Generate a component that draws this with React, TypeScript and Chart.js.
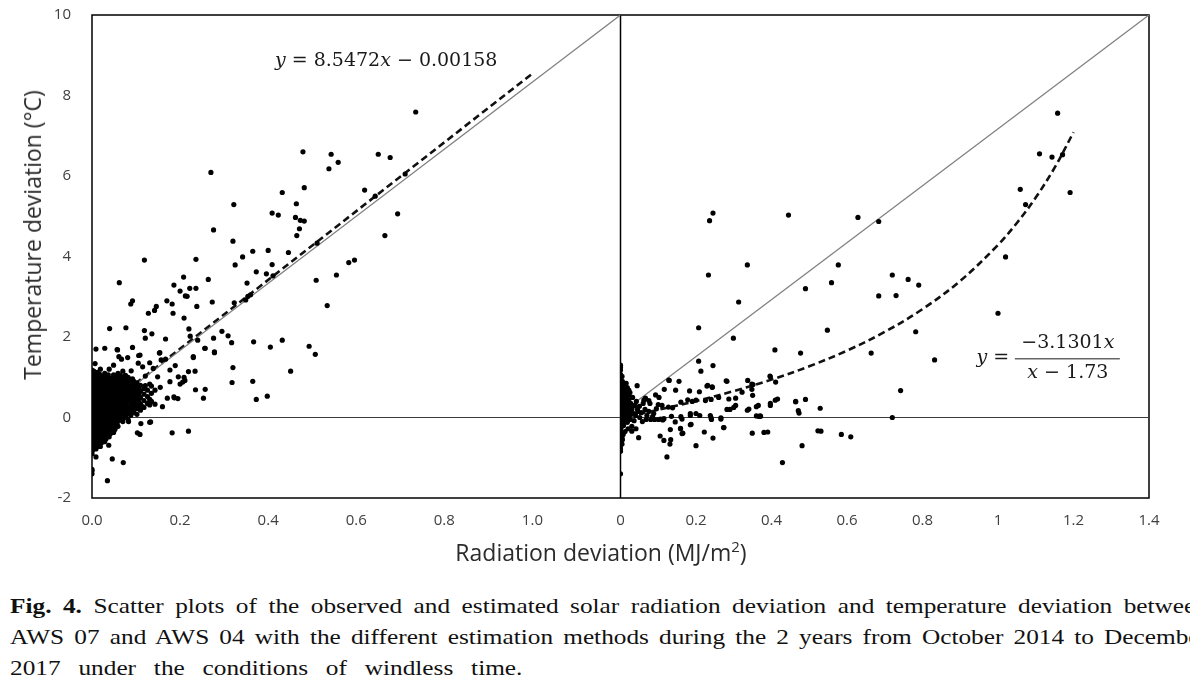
import React, { useEffect, useRef } from 'react';
import { Chart, registerables } from 'chart.js';

Chart.register(...registerables);

// ---------- axis ticks ----------
const Y_TICKS = [-2, 0, 2, 4, 6, 8, 10];
const Y_LABELS = ['-2', '0', '2', '4', '6', '8', '10'];
const LEFT_X_TICKS = [0, 0.2, 0.4, 0.6, 0.8, 1.0];
const LEFT_X_LABELS = ['0.0', '0.2', '0.4', '0.6', '0.8', '1.0'];
const RIGHT_X_TICKS = [0, 0.2, 0.4, 0.6, 0.8, 1, 1.2, 1.4];
const RIGHT_X_LABELS = ['0', '0.2', '0.4', '0.6', '0.8', '1', '1.2', '1.4'];
const Y_MIN = -2;
const Y_MAX = 10;
const LEFT_X_MAX = 1.2;
const RIGHT_X_MAX = 1.4;

// ---------- left panel: scattered points ----------
const LEFT_POINTS: number[][] = [
  [0.735, 7.59], [0.479, 6.6], [0.543, 6.54], [0.559, 6.34], [0.538, 6.18], [0.65, 6.54], [0.677, 6.46],
  [0.27, 6.09], [0.482, 5.71], [0.619, 5.65], [0.432, 5.59], [0.711, 6.05], [0.643, 5.5], [0.322, 5.29],
  [0.464, 5.31], [0.409, 5.08], [0.423, 5.03], [0.694, 5.06], [0.462, 4.97], [0.473, 4.9], [0.482, 4.88],
  [0.471, 4.69], [0.465, 4.52], [0.665, 4.52], [0.276, 4.66], [0.32, 4.38], [0.511, 4.33], [0.446, 4.1],
  [0.4, 4.15], [0.365, 4.13], [0.342, 3.99], [0.236, 3.93], [0.119, 3.91], [0.325, 3.79], [0.409, 3.8],
  [0.596, 3.91], [0.583, 3.85], [0.373, 3.62], [0.396, 3.57], [0.411, 3.52], [0.555, 3.54], [0.509, 3.41],
  [0.264, 3.43], [0.208, 3.49], [0.062, 3.35], [0.352, 3.34], [0.186, 3.29], [0.2, 3.14], [0.222, 3.21],
  [0.236, 3.21], [0.212, 3.02], [0.216, 3.01], [0.354, 3.01], [0.36, 3.05], [0.349, 2.92], [0.323, 2.85],
  [0.273, 2.87], [0.17, 2.9], [0.092, 2.9], [0.088, 2.82], [0.182, 2.82], [0.238, 2.76], [0.146, 2.76],
  [0.142, 2.66], [0.128, 2.59], [0.534, 2.78], [0.184, 2.59], [0.209, 2.47], [0.04, 2.21], [0.077, 2.23],
  [0.119, 2.16], [0.136, 2.08], [0.22, 2.2], [0.223, 2.02], [0.121, 1.97], [0.167, 1.95], [0.295, 2.14],
  [0.309, 2.03], [0.276, 1.97], [0.317, 1.86], [0.367, 1.88], [0.432, 1.92], [0.493, 1.77], [0.405, 1.75],
  [0.507, 1.57], [0.029, 1.72], [0.057, 1.69], [0.092, 1.74], [0.256, 1.72], [0.278, 1.61], [0.154, 1.61],
  [0.061, 1.51], [0.106, 1.54], [0.23, 1.49], [0.32, 1.24], [0.451, 1.15], [0.365, 0.9], [0.318, 0.87],
  [0.007, 1.34], [0.0, 1.13], [0.235, 0.69], [0.257, 0.7], [0.253, 0.48], [0.398, 0.53], [0.373, 0.45],
  [0.211, 0.92], [0.187, 0.49], [0.195, 0.47], [0.182, -0.38], [0.219, -0.34], [0.103, -0.38], [0.109, -0.42],
  [0.133, -0.11], [0.071, -1.12], [0.046, -1.03], [0.009, -0.98], [0.035, -1.57], [0.0, -1.32], [0.0, -1.4],
  [0.0, -1.29], [0.0, -0.84], [0.0, -0.9],
  [0.009, 1.7], [0.058, 1.68], [0.067, 1.45], [0.081, 1.49], [0.109, 1.55], [0.105, 1.35], [0.153, 1.6],
  [0.157, 1.43], [0.167, 1.45], [0.131, 1.36], [0.089, 1.16], [0.115, 1.26], [0.139, 1.22], [0.121, 1.03],
  [0.149, 1.01], [0.177, 1.18], [0.189, 1.29], [0.196, 1.01], [0.2, 0.83], [0.177, 0.89], [0.219, 1.14],
  [0.234, 1.15], [0.23, 1.51], [0.24, 1.92], [0.257, 1.72], [0.278, 1.63], [0.209, 1.0], [0.206, 0.88],
  [0.186, 0.51], [0.171, 0.48], [0.16, 0.27], [0.143, 0.33], [0.131, 0.31], [0.115, 0.27], [0.102, 0.43],
  [0.131, 0.45], [0.143, 0.68], [0.155, 0.75], [0.131, 0.83], [0.121, 0.79], [0.096, 0.77], [0.107, 0.64],
  [0.083, 0.48], [0.092, 0.19], [0.079, 0.19], [0.111, -0.15], [0.131, -0.12], [0.083, -0.1], [0.047, -0.35],
  [0.052, -0.27], [0.038, -0.69], [0.026, -0.5], [0.017, -0.6],
];

// left panel dense core near the origin: [x, y values read at that x]
const LEFT_CORE: [number, number[]][] = [
  [0.0, [-0.82, -0.75, -0.68, -0.6, -0.52, -0.44, -0.37, -0.3, -0.22, -0.14, -0.06, 0.02, 0.1, 0.18, 0.26, 0.34, 0.42, 0.5, 0.58, 0.66, 0.74, 0.82, 0.9, 0.98, 1.06, 1.18]],
  [0.002, [-0.79, -0.64, -0.5, -0.35, -0.2, -0.06, 0.08, 0.22, 0.36, 0.5, 0.64, 0.78, 0.92, 1.05]],
  [0.004, [-0.7, -0.55, -0.4, -0.26, -0.12, 0.03, 0.17, 0.31, 0.45, 0.6, 0.74, 0.88, 1.02, 1.15]],
  [0.007, [-0.58, -0.44, -0.3, -0.16, -0.02, 0.12, 0.27, 0.41, 0.55, 0.7, 0.84, 0.98]],
  [0.009, [-0.78, -0.63, -0.48, -0.34, -0.19, -0.05, 0.1, 0.24, 0.38, 0.53, 0.67, 0.81, 0.95, 1.1]],
  [0.012, [-0.72, -0.57, -0.42, -0.29, -0.15, 0.0, 0.13, 0.27, 0.41, 0.55, 0.69, 0.83, 0.97, 1.12]],
  [0.014, [-0.66, -0.5, -0.36, -0.22, -0.08, 0.06, 0.2, 0.34, 0.48, 0.62, 0.76, 0.9, 1.04]],
  [0.017, [-0.46, -0.33, -0.2, -0.05, 0.08, 0.21, 0.35, 0.49, 0.63, 0.77, 0.91, 1.08]],
  [0.019, [-0.72, -0.57, -0.43, -0.28, -0.14, 0.0, 0.14, 0.28, 0.42, 0.56, 0.7, 0.85, 0.98, 1.2]],
  [0.022, [-0.62, -0.45, -0.31, -0.17, -0.03, 0.11, 0.25, 0.39, 0.53, 0.67, 0.81, 0.95]],
  [0.024, [-0.52, -0.38, -0.24, -0.1, 0.04, 0.18, 0.32, 0.46, 0.6, 0.74, 0.88, 1.01]],
  [0.027, [-0.38, -0.23, -0.09, 0.05, 0.19, 0.33, 0.47, 0.61, 0.75, 0.89, 1.03]],
  [0.029, [-0.6, -0.45, -0.31, -0.16, -0.02, 0.12, 0.26, 0.4, 0.54, 0.68, 0.82, 0.96, 1.1]],
  [0.032, [-0.53, -0.33, -0.19, -0.05, 0.09, 0.23, 0.37, 0.51, 0.65, 0.79, 0.93]],
  [0.034, [-0.4, -0.26, -0.12, 0.02, 0.16, 0.3, 0.44, 0.58, 0.72, 0.86, 1.0]],
  [0.037, [-0.26, -0.12, 0.02, 0.16, 0.3, 0.44, 0.58, 0.72, 0.86, 1.06]],
  [0.039, [-0.48, -0.33, -0.19, -0.05, 0.09, 0.23, 0.37, 0.51, 0.65, 0.79, 0.93, 1.2]],
  [0.042, [-0.4, -0.21, -0.07, 0.07, 0.21, 0.35, 0.49, 0.63, 0.77, 0.91]],
  [0.044, [-0.28, -0.14, 0.0, 0.14, 0.28, 0.42, 0.56, 0.7, 0.84, 0.97]],
  [0.047, [-0.13, 0.01, 0.15, 0.29, 0.43, 0.57, 0.71, 0.85, 0.99]],
  [0.049, [-0.37, -0.2, -0.06, 0.08, 0.22, 0.36, 0.5, 0.64, 0.78, 0.92, 1.06, 1.3]],
  [0.052, [-0.3, -0.05, 0.09, 0.23, 0.37, 0.51, 0.65, 0.79, 0.93]],
  [0.054, [-0.12, 0.02, 0.16, 0.3, 0.44, 0.58, 0.72, 0.86, 1.0]],
  [0.057, [-0.15, 0.03, 0.17, 0.31, 0.45, 0.59, 0.73, 0.87, 1.02]],
  [0.059, [-0.22, -0.05, 0.1, 0.24, 0.38, 0.52, 0.66, 0.8, 0.94, 1.1]],
  [0.062, [-0.07, 0.08, 0.22, 0.37, 0.52, 0.67, 0.82, 0.97]],
  [0.064, [0.0, 0.15, 0.3, 0.45, 0.6, 0.75, 0.9, 1.05]],
  [0.067, [0.04, 0.15, 0.3, 0.45, 0.6, 0.74, 0.89]],
  [0.07, [-0.1, 0.08, 0.22, 0.37, 0.52, 0.67, 0.82, 0.97, 1.15]],
  [0.073, [0.0, 0.14, 0.29, 0.44, 0.59, 0.74, 0.88, 1.02]],
  [0.076, [0.02, 0.17, 0.32, 0.47, 0.62, 0.77, 0.92, 1.05]],
  [0.079, [0.09, 0.24, 0.39, 0.54, 0.69, 0.84, 0.98]],
  [0.082, [-0.05, 0.1, 0.26, 0.41, 0.56, 0.71, 0.86, 1.0]],
  [0.085, [0.12, 0.27, 0.42, 0.58, 0.73, 0.88]],
  [0.088, [0.05, 0.2, 0.35, 0.5, 0.65, 0.8, 0.95]],
  [0.092, [0.2, 0.36, 0.52, 0.67, 0.82, 0.96]],
  [0.095, [0.12, 0.28, 0.44, 0.6, 0.74, 0.9]],
  [0.099, [0.3, 0.46, 0.62, 0.78]],
  [0.102, [0.08, 0.22, 0.38, 0.55, 0.7, 0.86]],
  [0.106, [0.26, 0.42, 0.6, 0.74]],
  [0.11, [0.18, 0.34, 0.5, 0.66, 0.8]],
  [0.118, [0.25, 0.42, 0.58, 0.72]],
  [0.126, [0.35, 0.52, 0.68]],
  [0.135, [0.4, 0.6, 0.78]],
];

// ---------- right panel: scattered points ----------
const RIGHT_POINTS: number[][] = [
  [1.158, 7.56], [1.11, 6.55], [1.143, 6.47], [1.171, 6.53], [1.191, 5.59], [1.059, 5.67], [1.073, 5.29],
  [1.02, 3.99], [1.0, 2.59], [0.832, 1.43], [0.742, 0.67], [0.72, 0.0], [0.245, 5.08], [0.236, 4.89],
  [0.445, 5.03], [0.629, 4.97], [0.684, 4.87], [0.233, 3.54], [0.336, 3.79], [0.577, 3.79], [0.559, 3.35],
  [0.49, 3.2], [0.72, 3.54], [0.762, 3.43], [0.79, 3.29], [0.684, 3.02], [0.73, 3.03], [0.313, 2.87],
  [0.207, 2.23], [0.299, 1.97], [0.548, 2.17], [0.782, 2.13], [0.409, 1.68], [0.477, 1.6], [0.664, 1.6],
  [0.207, 1.4], [0.245, 1.29], [0.213, 1.15], [0.282, 0.9], [0.337, 0.92], [0.351, 0.82], [0.396, 1.03],
  [0.411, 0.88], [0.129, 0.92], [0.155, 0.9], [0.231, 0.8], [0.243, 0.76], [0.416, 0.46], [0.464, 0.39],
  [0.49, 0.45], [0.529, 0.23], [0.471, 0.17], [0.473, 0.11], [0.531, -0.34], [0.585, -0.42], [0.61, -0.48],
  [0.481, -0.7], [0.429, -1.12], [0.349, -0.39], [0.38, -0.37], [0.39, -0.36], [0.245, -0.51], [0.2, -0.7],
  [0.133, -0.55], [0.123, -0.98], [0.105, -0.46], [0.115, -0.57], [0.131, -0.66], [0.048, -0.5], [0.041, -0.28],
  [0.03, -0.34], [0.145, -0.11], [0.159, -0.28], [0.165, -0.39], [0.187, -0.17], [0.222, -0.36], [0.274, -0.25],
  [0.24, -0.01], [0.266, -0.04], [0.371, 0.03], [0.366, 0.03], [0.0, -0.84], [0.0, -1.4], [0.0, 1.3],
  [0.0, 1.24], [0.0, 1.18],
  [0.018, 0.74], [0.044, 0.79], [0.128, 0.93], [0.066, 0.48], [0.093, 0.56], [0.102, 0.5], [0.116, 0.7],
  [0.146, 0.68], [0.183, 0.66], [0.209, 0.64], [0.229, 0.78], [0.243, 0.75], [0.28, 0.91], [0.348, 0.83],
  [0.348, 0.7], [0.397, 1.01], [0.35, 0.55], [0.322, 0.63], [0.305, 0.48], [0.287, 0.46], [0.26, 0.5],
  [0.24, 0.45], [0.225, 0.42], [0.2, 0.43], [0.19, 0.4], [0.178, 0.44], [0.16, 0.38], [0.127, 0.26],
  [0.138, 0.24], [0.11, 0.3], [0.1, 0.32], [0.078, 0.35], [0.075, 0.42], [0.062, 0.43], [0.031, 0.26],
  [0.045, 0.2], [0.035, 0.1], [0.046, 0.15], [0.051, 0.0], [0.085, 0.02], [0.09, -0.05], [0.1, -0.05],
  [0.106, -0.04], [0.112, -0.06], [0.115, -0.03], [0.135, 0.03], [0.16, 0.02], [0.163, -0.04], [0.185, 0.1],
  [0.185, 0.05], [0.2, 0.1], [0.21, 0.05], [0.238, 0.05], [0.241, -0.05], [0.266, -0.01], [0.282, 0.2],
  [0.29, 0.2], [0.3, 0.25], [0.305, 0.3], [0.336, 0.18], [0.34, 0.21], [0.36, 0.27], [0.365, 0.3],
  [0.397, 0.3], [0.397, 0.35], [0.41, 0.43], [0.36, 0.04], [0.37, 0.04], [0.464, 0.4], [0.523, -0.33],
  [0.132, -0.3], [0.159, -0.27], [0.185, -0.18], [0.163, -0.4], [0.273, -0.25],
  [0.008, -0.2], [0.01, -0.05], [0.007, 0.1], [0.012, 0.22], [0.009, 0.35], [0.011, 0.48], [0.008, 0.6],
  [0.013, 0.7], [0.018, -0.12], [0.02, 0.02], [0.017, 0.15], [0.021, 0.3], [0.019, 0.42], [0.022, 0.55],
  [0.026, -0.05], [0.028, 0.08], [0.03, 0.2], [0.027, 0.35], [0.032, 0.5], [0.036, -0.08], [0.04, 0.05],
  [0.038, 0.3], [0.042, 0.4], [0.05, 0.28], [0.055, 0.12], [0.058, -0.1], [0.065, 0.2], [0.07, 0.05],
  [0.075, 0.15], [0.08, -0.05], [0.088, 0.1], [0.095, 0.22], [0.06, 0.35], [0.068, -0.05], [0.025, 0.62],
  [0.015, 0.85], [0.005, 0.9], [0.03, -0.22], [0.012, -0.35], [0.02, -0.28], [0.005, -0.55], [0.007, -0.42],
];

// right panel points piled on / next to the x = 0 line: [x, y values]
const RIGHT_CORE: [number, number[]][] = [
  [0.0, [-0.78, -0.7, -0.62, -0.55, -0.47, -0.4, -0.33, -0.26, -0.19, -0.12, -0.05, 0.02, 0.09, 0.16, 0.23, 0.3, 0.37, 0.44, 0.51, 0.58, 0.65, 0.72, 0.79, 0.86, 0.93, 1.0, 1.07]],
  [0.004, [-0.66, -0.5, -0.36, -0.22, -0.09, 0.05, 0.19, 0.33, 0.47, 0.61, 0.75, 0.88, 1.02]],
  [0.009, [-0.12, 0.02, 0.15, 0.28, 0.42, 0.55, 0.68, 0.8]],
  [0.014, [-0.03, 0.1, 0.24, 0.38, 0.5, 0.62]],
  [0.022, [0.05, 0.18, 0.44, 0.68]],
];

// ---------- reference and fitted lines ----------
const LEFT_DIAG = [[0, 0], [1.2, 10]];
const RIGHT_DIAG = [[0, 0.1], [1.4, 10]];
const LEFT_ZERO = [[0, 0], [1.2, 0]];
const RIGHT_ZERO = [[0, 0], [1.4, 0]];
const LEFT_FIT = [[0, -0.00158], [1.0, 8.5456]];
const RIGHT_FIT_X = [0.02, 0.1, 0.2, 0.3, 0.4, 0.5, 0.6, 0.7, 0.8, 0.9, 1.0, 1.05, 1.1, 1.15, 1.2];
const RIGHT_FIT_Y = [0.037, 0.192, 0.409, 0.657, 0.941, 1.272, 1.662, 2.127, 2.693, 3.394, 4.288, 4.833, 5.465, 6.206, 7.087];

const toXY = (arr: number[][]) => arr.map(([x, y]) => ({ x, y }));
const fromCore = (core: [number, number[]][]) => core.flatMap(([x, ys]) => ys.map((y) => ({ x, y })));

const TICK_FONT = { family: '"Open Sans", "Noto Sans", sans-serif', size: 15 };
const TICK_COLOR = '#404040';

export default function App() {
  const ref = useRef<HTMLCanvasElement>(null);

  useEffect(() => {
    const leftAll = [...toXY(LEFT_POINTS), ...fromCore(LEFT_CORE)];
    const rightAll = [...toXY(RIGHT_POINTS), ...fromCore(RIGHT_CORE)];

    const framePlugin = {
      id: 'frameAndEquations',
      beforeDatasetsDraw(chart: any) {
        const { ctx, chartArea: a, scales } = chart;
        ctx.save();
        ctx.strokeStyle = '#000';
        ctx.lineWidth = 1.5;
        ctx.strokeRect(a.left, a.top, a.right - a.left, a.bottom - a.top);
        const mx = scales.xR.getPixelForValue(0);
        ctx.beginPath();
        ctx.moveTo(mx, a.top);
        ctx.lineTo(mx, a.bottom);
        ctx.stroke();
        ctx.restore();
      },
      afterDraw(chart: any) {
        const { ctx, scales } = chart;
        const fam = '"DejaVu Serif", "Liberation Serif", serif';
        const size = 19;
        const drawRuns = (runs: [string, boolean][], cx: number, cy: number) => {
          const widths = runs.map(([t, it]) => {
            ctx.font = `${it ? 'italic ' : ''}${size}px ${fam}`;
            return ctx.measureText(t).width;
          });
          const total = widths.reduce((s, w) => s + w, 0);
          let x = cx - total / 2;
          runs.forEach(([t, it], i) => {
            ctx.font = `${it ? 'italic ' : ''}${size}px ${fam}`;
            ctx.fillText(t, x, cy);
            x += widths[i];
          });
        };
        ctx.save();
        ctx.fillStyle = '#1a1a1a';
        ctx.textBaseline = 'middle';
        ctx.textAlign = 'left';
        const lx = scales.xL.getPixelForValue(0.668);
        const ly = scales.y.getPixelForValue(8.86);
        drawRuns([['y', true], [' = 8.5472', false], ['x', true], [' \u2212 0.00158', false]], lx, ly);
        const rx = scales.xR.getPixelForValue(1.185);
        const ry = scales.y.getPixelForValue(1.47);
        drawRuns([['\u22123.1301', false], ['x', true]], rx, ry - 15);
        drawRuns([['x', true], [' \u2212 1.73', false]], rx, ry + 15);
        drawRuns([['y', true], [' =', false]], rx - 75, ry);
        ctx.strokeStyle = '#1a1a1a';
        ctx.lineWidth = 1;
        ctx.beginPath();
        ctx.moveTo(rx - 53, ry + 0.5);
        ctx.lineTo(rx + 52, ry + 0.5);
        ctx.stroke();
        ctx.restore();
      },
    };

    const lineDs = (data: any[], axis: string, color: string, width: number, dash: number[] = [], tension = 0) => ({
      data,
      xAxisID: axis,
      yAxisID: 'y',
      showLine: true,
      pointRadius: 0,
      borderColor: color,
      borderWidth: width,
      borderDash: dash,
      tension,
      order: 2,
    });

    const pointDs = (data: any[], axis: string) => ({
      data,
      xAxisID: axis,
      yAxisID: 'y',
      pointRadius: 2.6,
      pointBorderWidth: 0,
      pointBackgroundColor: '#000',
      backgroundColor: '#000',
      order: 0,
    });

    const chart = new Chart(ref.current!, {
      type: 'scatter',
      data: {
        datasets: [
          pointDs(leftAll, 'xL'),
          pointDs(rightAll, 'xR'),
          lineDs(toXY(LEFT_ZERO), 'xL', '#3a3a3a', 1.2),
          lineDs(toXY(RIGHT_ZERO), 'xR', '#3a3a3a', 1.2),
          lineDs(toXY(LEFT_DIAG), 'xL', '#808080', 1.3),
          lineDs(toXY(RIGHT_DIAG), 'xR', '#808080', 1.3),
          lineDs(toXY(LEFT_FIT), 'xL', '#111', 2.6, [7, 4]),
          lineDs(RIGHT_FIT_X.map((x, i) => ({ x, y: RIGHT_FIT_Y[i] })), 'xR', '#111', 2.6, [7, 4], 0.35),
        ] as any,
      },
      options: {
        animation: false,
        responsive: false,
        devicePixelRatio: 1,
        events: [],
        layout: { padding: { top: 15, right: 41, bottom: 0, left: 0 } },
        plugins: { legend: { display: false }, tooltip: { enabled: false } },
        scales: {
          xL: {
            type: 'linear',
            position: 'bottom',
            stack: 'x',
            stackWeight: 1,
            min: 0,
            max: LEFT_X_MAX,
            grid: { display: false, drawTicks: true, tickLength: 8 },
            border: { display: false },
            afterBuildTicks: (s: any) => { s.ticks = LEFT_X_TICKS.map((v) => ({ value: v })); },
            afterFit: (s: any) => { s.height = 62; },
            ticks: {
              autoSkip: false,
              maxRotation: 0,
              padding: 6,
              font: TICK_FONT,
              color: TICK_COLOR,
              callback: (_v: any, i: number) => LEFT_X_LABELS[i],
            },
          },
          xR: {
            type: 'linear',
            position: 'bottom',
            stack: 'x',
            stackWeight: 1,
            min: 0,
            max: RIGHT_X_MAX,
            grid: { display: false, drawTicks: true, tickLength: 8 },
            border: { display: false },
            afterBuildTicks: (s: any) => { s.ticks = RIGHT_X_TICKS.map((v) => ({ value: v })); },
            afterFit: (s: any) => { s.height = 62; },
            ticks: {
              autoSkip: false,
              maxRotation: 0,
              padding: 6,
              font: TICK_FONT,
              color: TICK_COLOR,
              callback: (_v: any, i: number) => RIGHT_X_LABELS[i],
            },
          },
          y: {
            type: 'linear',
            position: 'left',
            min: Y_MIN,
            max: Y_MAX,
            grid: { display: false, drawTicks: true, tickLength: 16 },
            border: { display: false },
            afterBuildTicks: (s: any) => { s.ticks = Y_TICKS.map((v) => ({ value: v })); },
            afterFit: (s: any) => { s.width = 92; },
            ticks: {
              padding: 5,
              font: TICK_FONT,
              color: TICK_COLOR,
              callback: (_v: any, i: number) => Y_LABELS[i],
            },
          },
        } as any,
      },
      plugins: [framePlugin],
    });
    return () => chart.destroy();
  }, []);

  const serif = '"Liberation Serif", "Times New Roman", serif';
  const sans = '"Open Sans", "Noto Sans", sans-serif';
  const SCALE = 1.15;
  const lineStyle: React.CSSProperties = {
    height: 31,
    lineHeight: '31px',
    whiteSpace: 'normal',
    textAlign: 'justify',
    textAlignLast: 'justify' as any,
    overflow: 'hidden',
  };

  return (
    <div style={{ position: 'absolute', left: 0, top: 0, width: 1190, height: 687, background: '#fff', overflow: 'hidden' }}>
      <canvas ref={ref} width={1190} height={560} style={{ position: 'absolute', left: 0, top: 0, display: 'block' }} />
      <div
        style={{
          position: 'absolute', left: 32, top: 235, transform: 'translate(-50%, -50%) rotate(-90deg)',
          whiteSpace: 'nowrap', fontFamily: sans, fontSize: 23, color: '#2b2b2b',
        }}
      >
        Temperature deviation (°C)
      </div>
      <div
        style={{
          position: 'absolute', left: 601, top: 552, transform: 'translate(-50%, -50%)',
          whiteSpace: 'nowrap', fontFamily: sans, fontSize: 23, color: '#2b2b2b',
        }}
      >
        Radiation deviation (MJ/m<sup style={{ fontSize: '0.65em', lineHeight: 0, verticalAlign: '0.6em' }}>2</sup>)
      </div>
      <div
        style={{
          position: 'absolute', left: 10, top: 590, width: 1198 / SCALE, fontFamily: serif, fontSize: 22, color: '#111',
          transform: `scaleX(${SCALE})`, transformOrigin: 'left top',
        }}
      >
        <div style={lineStyle}>
          <b>Fig. 4.</b> Scatter plots of the observed and estimated solar radiation deviation and temperature deviation between
        </div>
        <div style={lineStyle}>
          AWS 07 and AWS 04 with the different estimation methods during the 2 years from October 2014 to December
        </div>
        <div style={{ height: 31, lineHeight: '31px', whiteSpace: 'nowrap', wordSpacing: 10 }}>
          2017 under the conditions of windless time.
        </div>
      </div>
    </div>
  );
}
